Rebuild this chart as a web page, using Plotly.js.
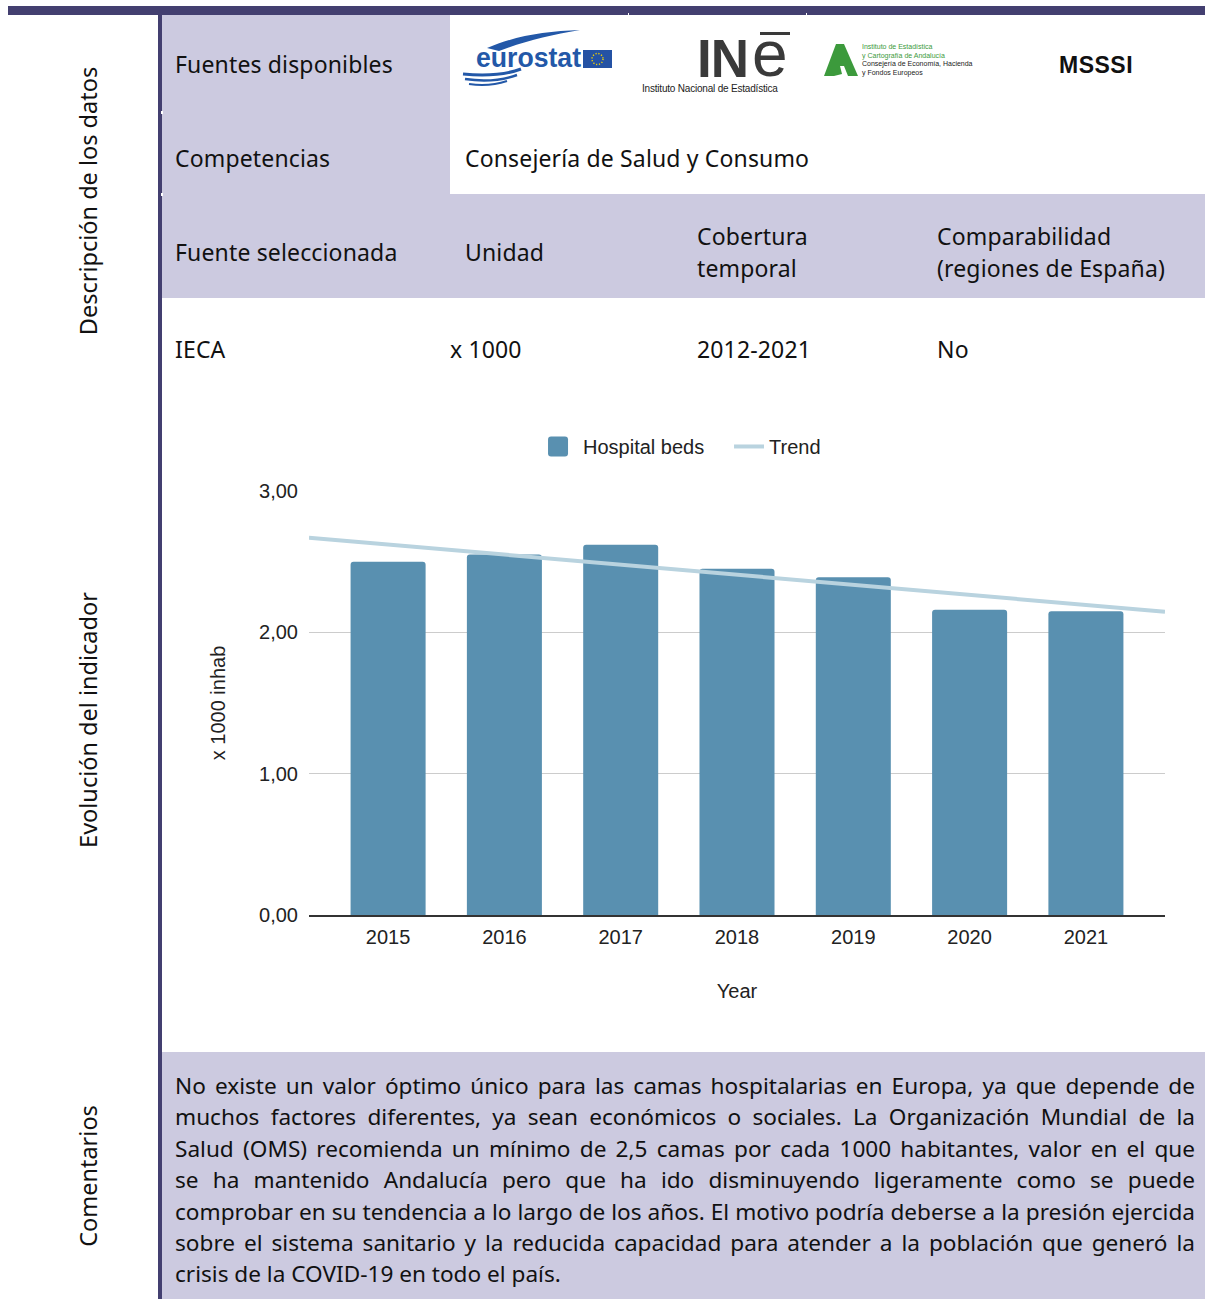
<!DOCTYPE html>
<html>
<head>
<meta charset="utf-8">
<script src="https://cdn.plot.ly/plotly-3.0.1.min.js"></script>
<style>
  html, body { margin:0; padding:0; background:#fff; }
  body { width:1205px; height:1299px; position:relative; overflow:hidden; font-family:"Noto Sans", sans-serif; color:#111; }
  .abs { position:absolute; }
  .lav { background:#cccae0; }
  .navy { background:#433f70; }
  .cell { position:absolute; font-size:23px; letter-spacing:0.15px; line-height:32px; white-space:nowrap; }
  .side { position:absolute; font-size:23.5px; white-space:nowrap; transform:translate(-50%,-50%) rotate(-90deg); }
  .cline { position:absolute; left:175px; width:1020px; font-size:22.6px; line-height:31px; white-space:nowrap; text-align:justify; text-align-last:justify; }
  .cline.last { text-align-last:left; }
  .ine { position:absolute; font-family:"Liberation Sans", Arial, sans-serif; color:#3a3a3a; white-space:nowrap; }
  #chart { position:absolute; left:0; top:400px; width:1205px; height:650px; }
</style>
</head>
<body>
<!-- frame -->
<div class="abs navy" style="left:8px; top:6px; width:1197px; height:9px;"></div>
<div class="abs navy" style="left:158px; top:6px; width:4px; height:1293px;"></div>

<!-- left labels -->
<div class="side" style="left:88px; top:201px;">Descripción de los datos</div>
<div class="side" style="left:88px; top:720px;">Evolución del indicador</div>
<div class="side" style="left:88px; top:1176px;">Comentarios</div>

<!-- table backgrounds -->
<div class="abs lav" style="left:162px; top:15px; width:288px; height:179px;"></div>
<div class="abs lav" style="left:162px; top:194px; width:1043px; height:104px;"></div>
<div class="abs lav" style="left:162px; top:1052px; width:1043px; height:247px;"></div>
<div class="abs" style="left:161px; top:111px; width:2px; height:3px; background:#fff;"></div>
<div class="abs" style="left:161px; top:193px; width:2px; height:3px; background:#fff;"></div>
<div class="abs" style="left:628px; top:13px; width:1px; height:3px; background:#fff;"></div>
<div class="abs" style="left:806px; top:13px; width:1px; height:3px; background:#fff;"></div>

<!-- table text -->
<div class="cell" style="left:175px; top:48px;">Fuentes disponibles</div>
<div class="cell" style="left:175px; top:142px;">Competencias</div>
<div class="cell" style="left:465px; top:142px;">Consejería de Salud y Consumo</div>
<div class="cell" style="left:175px; top:236px;">Fuente seleccionada</div>
<div class="cell" style="left:465px; top:236px;">Unidad</div>
<div class="cell" style="left:697px; top:220px;">Cobertura<br>temporal</div>
<div class="cell" style="left:937px; top:220px;">Comparabilidad<br>(regiones de España)</div>
<div class="cell" style="left:175px; top:333px;">IECA</div>
<div class="cell" style="left:450px; top:333px;">x 1000</div>
<div class="cell" style="left:697px; top:333px;">2012-2021</div>
<div class="cell" style="left:937px; top:333px;">No</div>

<!-- logos (text-based) -->
<svg class="abs" style="left:455px; top:25px;" width="170" height="70" viewBox="0 0 170 70">
  <path d="M32 23 C 60 11, 90 6, 125 5 C 95 10, 70 16, 44 26 Z" fill="#2358a8"/>
  <text x="21" y="42" textLength="105" lengthAdjust="spacingAndGlyphs" font-family="Liberation Sans, Arial, sans-serif" font-weight="bold" font-size="27" fill="#2358a8">eurostat</text>
  <rect x="128" y="25" width="29" height="18" fill="#2452a4"/>
  <circle cx="142.5" cy="34" r="5.5" fill="none" stroke="#f5d400" stroke-width="1.4" stroke-dasharray="1.2 1.7"/>
  <path d="M8 49 C 30 51, 50 50, 66 44" stroke="#2358a8" stroke-width="3" fill="none"/>
  <path d="M10 54 C 30 57, 48 55, 62 50" stroke="#2358a8" stroke-width="2.5" fill="none"/>
  <path d="M14 59 C 28 61, 40 60, 52 56" stroke="#2358a8" stroke-width="2" fill="none"/>
</svg>
<div class="ine" style="left:697px; top:41px; font-size:53px; line-height:36px; height:36px; font-weight:bold; letter-spacing:-1px;">IN</div>
<div class="ine" style="left:752px; top:38px; font-size:64px; line-height:32px; height:32px;">e</div>
<div class="abs" style="left:760px; top:32px; width:30px; height:3px; background:#3a3a3a;"></div>
<div class="abs" style="left:642px; top:84px; font-family:'Liberation Sans',Arial,sans-serif; font-size:10px; line-height:10px; color:#222; letter-spacing:-0.2px; white-space:nowrap;">Instituto Nacional de Estadística</div>
<svg class="abs" style="left:822px; top:42px;" width="40" height="38" viewBox="0 0 40 38">
  <path d="M14 2 L22 2 L36 34 L26 34 L22 24 L18 24 L20 32 L12 34 L2 34 Z" fill="#3c9a3c"/>
</svg>
<div class="abs" style="left:862px; top:43px; font-family:'Liberation Sans',Arial,sans-serif; font-size:7px; line-height:8.5px; white-space:nowrap;">
  <span style="color:#3c9a3c;">Instituto de Estadística</span><br>
  <span style="color:#3c9a3c;">y Cartografía de Andalucía</span><br>
  <span style="color:#222;">Consejería de Economía, Hacienda</span><br>
  <span style="color:#222;">y Fondos Europeos</span>
</div>
<div class="abs" style="left:1059px; top:50px; font-family:'Liberation Sans',Arial,sans-serif; font-weight:bold; font-size:23px; line-height:30px; color:#111; letter-spacing:0.5px;">MSSSI</div>

<!-- chart -->
<div id="chart"></div>

<!-- comments -->
<div class="cline" style="top:1070px;">No existe un valor óptimo único para las camas hospitalarias en Europa, ya que depende de</div>
<div class="cline" style="top:1101px;">muchos factores diferentes, ya sean económicos o sociales. La Organización Mundial de la</div>
<div class="cline" style="top:1133px;">Salud (OMS) recomienda un mínimo de 2,5 camas por cada 1000 habitantes, valor en el que</div>
<div class="cline" style="top:1164px;">se ha mantenido Andalucía pero que ha ido disminuyendo ligeramente como se puede</div>
<div class="cline" style="top:1196px;">comprobar en su tendencia a lo largo de los años. El motivo podría deberse a la presión ejercida</div>
<div class="cline" style="top:1227px;">sobre el sistema sanitario y la reducida capacidad para atender a la población que generó la</div>
<div class="cline last" style="top:1258px;">crisis de la COVID-19 en todo el país.</div>

<script>
// ---- data ----
const years = [2015, 2016, 2017, 2018, 2019, 2020, 2021];
const hospitalBeds = [2.50, 2.55, 2.62, 2.45, 2.39, 2.16, 2.15];
const trendYears = [2014.32, 2021.68];
const trendValues = [2.67, 2.145];
const yTickValues = [0, 1, 2, 3];
const yTickLabels = ["0,00", "1,00", "2,00", "3,00"];

// fit comment lines that are too wide
document.querySelectorAll('.cline').forEach(el => {
  let ls = 0;
  while (el.scrollWidth > el.clientWidth + 0.5 && ls > -2) {
    ls -= 0.1;
    el.style.letterSpacing = ls + 'px';
  }
});

const font = {family: '"Liberation Sans", Arial, sans-serif', size: 20, color: '#222'};

const traces = [
  {
    type: 'bar', name: 'Hospital beds', x: years, y: hospitalBeds,
    marker: {color: '#5990b0'}, hoverinfo: 'skip'
  },
  {
    type: 'scatter', mode: 'lines', name: 'Trend', x: trendYears, y: trendValues,
    line: {color: '#b9d3df', width: 4}, hoverinfo: 'skip'
  }
];

const layout = {
  width: 1205, height: 650,
  margin: {l: 309, r: 40, t: 91, b: 135},
  paper_bgcolor: 'rgba(0,0,0,0)', plot_bgcolor: 'rgba(0,0,0,0)',
  font: font,
  bargap: 0.355,
  barcornerradius: 3,
  showlegend: true,
  legend: {orientation: 'h', x: 0.2734, xanchor: 'left', y: 1.105, yanchor: 'middle',
           font: font, itemwidth: 30, entrywidth: 141, tracegroupgap: 0, traceorder: 'normal'},
  xaxis: {
    range: [2014.32, 2021.68], tickmode: 'array', tickvals: years, ticktext: years.map(String),
    showgrid: false, zeroline: false, showline: true, linecolor: '#333', linewidth: 1.5,
    ticks: '', ticklabelstandoff: 3, tickfont: font,
    title: {text: 'Year', font: font, standoff: 37}
  },
  yaxis: {
    range: [0, 3], tickmode: 'array', tickvals: yTickValues, ticktext: yTickLabels,
    showgrid: true, gridcolor: '#cccccc', gridwidth: 1, zeroline: false, showline: false,
    ticks: '', ticklabelstandoff: 10, tickfont: font,
    title: {text: 'x 1000 inhab', font: font, standoff: 28}
  }
};

Plotly.newPlot('chart', traces, layout, {displayModeBar: false, staticPlot: true}).then(gd => {
  // enlarge legend symbols to match reference sizes
  const pts = gd.querySelectorAll('.legend .traces .legendpoints');
  pts.forEach((g, i) => {
    const p = g.querySelector('path');
    if (!p) return;
    if (i === 0) {
      p.setAttribute('d', 'M-10,-7Q-10,-10,-7,-10H7Q10,-10,10,-7V7Q10,10,7,10H-7Q-10,10,-10,7Z');
      p.setAttribute('transform', 'translate(15,0)');
    } else {
      p.setAttribute('d', 'M6,0h20');
      p.style.strokeWidth = '6px';
    }
  });
});
</script>
</body>
</html>
